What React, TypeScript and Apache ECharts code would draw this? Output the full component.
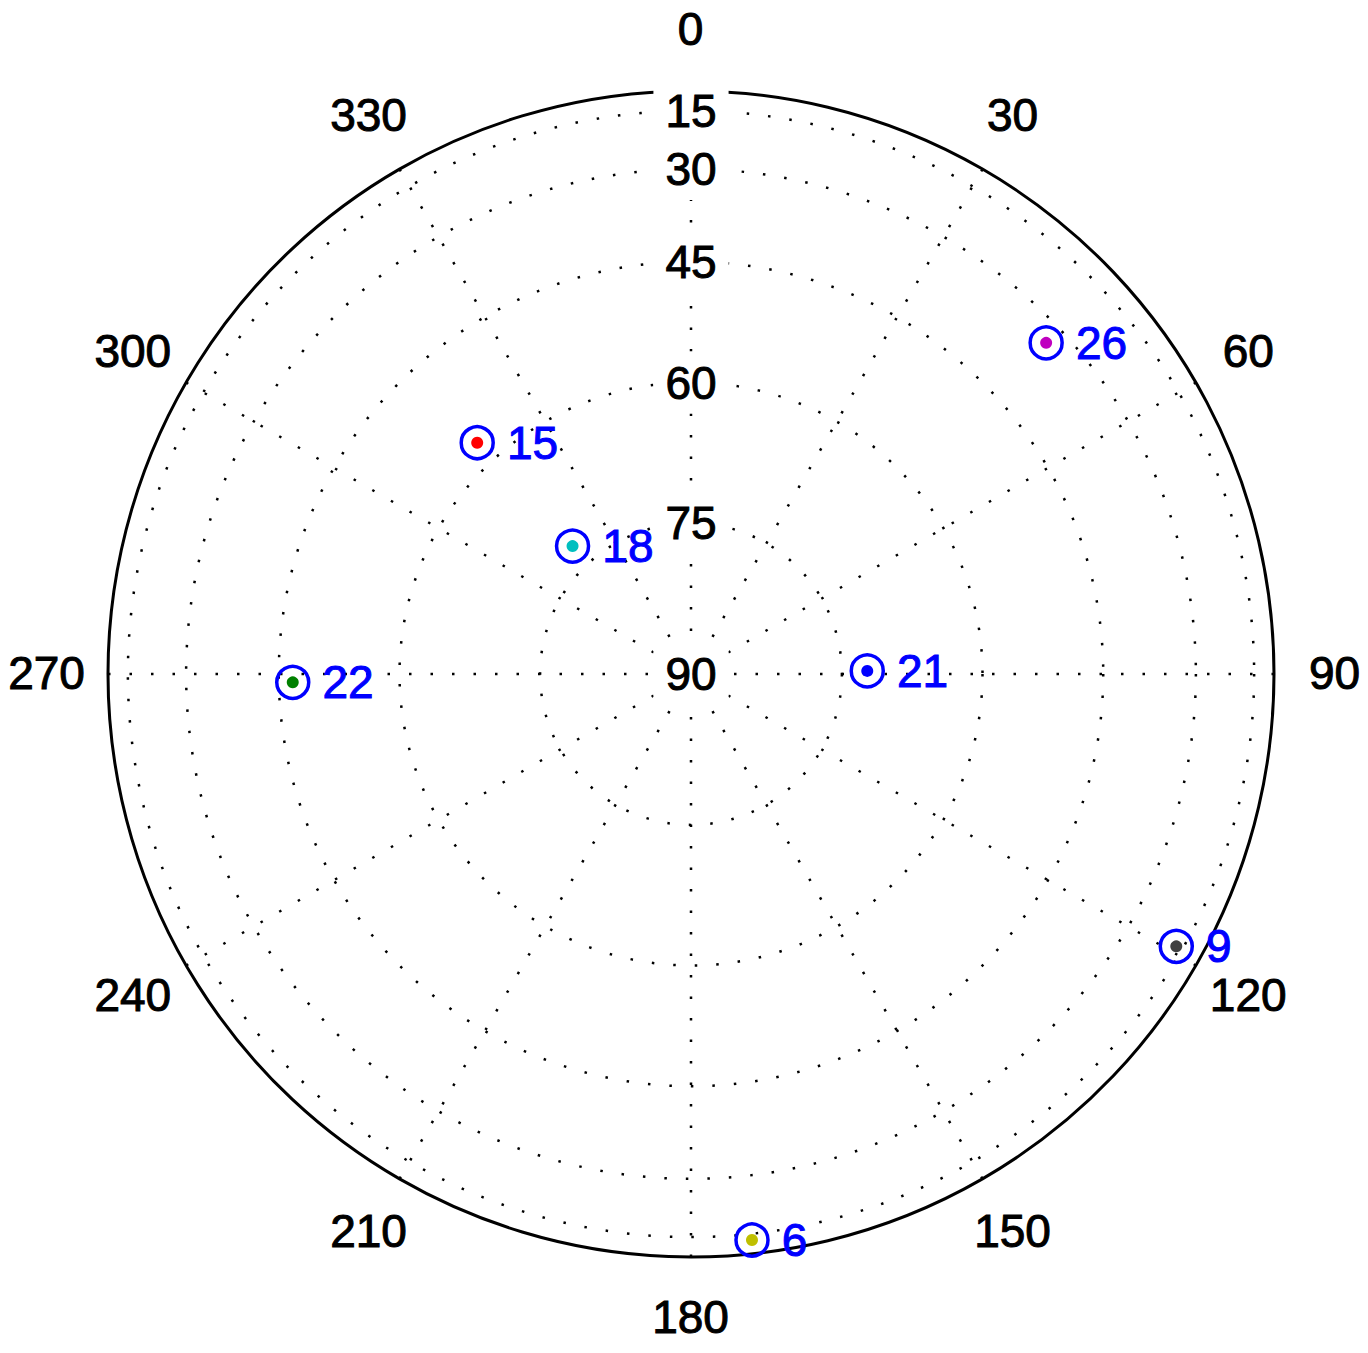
import React, { useEffect, useRef } from 'react';
import * as echarts from 'echarts';

// Azimuth tick labels (degrees, clockwise from north)
const angleTicks = [0, 30, 60, 90, 120, 150, 180, 210, 240, 270, 300, 330];
// Elevation tick labels along the north spoke
const elevationTicks = [15, 30, 45, 60, 75, 90];
// Elevation rings (dotted)
const ringElevations = [15, 30, 45, 60, 75];

// Satellites
const prns = ['26', '15', '18', '21', '22', '9', '6'];
const azimuths = [47.0, 317.25, 317.2, 89.0, 268.8, 119.3, 173.85];
const elevations = [33.6, 57.3, 72.6, 72.4, 46.9, 17.35, 12.45];
const dotColors = ['#bf00bf', '#ff0000', '#00bfbf', '#0000ff', '#008000', '#404040', '#bfbf00'];

const FONT = 'Liberation Sans, Arial, Helvetica, sans-serif';
const FS = 46;
const toR = (el: number) => Math.cos((el * Math.PI) / 180);

export default function App() {
  const ref = useRef<HTMLDivElement>(null);
  useEffect(() => {
    document.body.style.margin = '0';
    const chart = echarts.init(ref.current as HTMLDivElement, null, { renderer: 'svg' });
    chart.setOption({
      animation: false,
      backgroundColor: '#ffffff',
      polar: [
        { center: [691, 674], radius: 583 },
        { center: [690.5, 673], radius: 644 },
      ],
      angleAxis: [
        {
          polarIndex: 0,
          type: 'value',
          min: 0,
          max: 360,
          interval: 30,
          startAngle: 90,
          clockwise: true,
          axisLine: { show: true, lineStyle: { color: '#000', width: 3 } },
          axisTick: { show: false },
          axisLabel: { show: false },
          splitLine: { show: true, lineStyle: { color: '#000', width: 2.5, opacity: 1, type: [2.5, 19] } },
        },
        {
          polarIndex: 1,
          type: 'value',
          min: 0,
          max: 360,
          interval: 30,
          startAngle: 90,
          clockwise: true,
          show: false,
        },
      ],
      radiusAxis: [
        { polarIndex: 0, type: 'value', min: 0, max: 1, show: false },
        { polarIndex: 1, type: 'value', min: 0, max: 1, show: false },
      ],
      series: [
        {
          type: 'custom',
          coordinateSystem: 'polar',
          polarIndex: 0,
          silent: true,
          z: 1,
          data: ringElevations.map((e) => [toR(e), 0]),
          renderItem: (params: any, api: any) => {
            const r = api.value(0);
            const c = api.coord([0, 0]);
            const p = api.coord([r, 0]);
            const rad = Math.hypot(p[0] - c[0], p[1] - c[1]);
            return {
              type: 'circle',
              shape: { cx: c[0], cy: c[1], r: rad },
              style: { fill: 'none', stroke: '#000', lineWidth: 2.5, lineDash: [2.5, 19] },
            };
          },
        },
        {
          type: 'scatter',
          coordinateSystem: 'polar',
          polarIndex: 0,
          silent: true,
          z: 5,
          symbolSize: 0,
          itemStyle: { color: 'rgba(0,0,0,0)', opacity: 1 },
          data: elevationTicks.map((e) => [toR(e), 0, e]),
          label: {
            show: true,
            position: 'inside',
            formatter: (p: any) => String(p.value[2]),
            color: '#000000',
            opacity: 1,
            fontSize: FS,
            fontFamily: FONT,
            textBorderColor: '#000000',
            textBorderWidth: 1,
            backgroundColor: '#ffffff',
            padding: [8, 12],
          },
        },
        {
          type: 'scatter',
          coordinateSystem: 'polar',
          polarIndex: 1,
          silent: true,
          z: 5,
          symbolSize: 0,
          itemStyle: { color: 'rgba(0,0,0,0)', opacity: 1 },
          data: angleTicks.map((a) => [1, a]),
          label: {
            show: true,
            position: 'inside',
            formatter: (p: any) => String(p.value[1]),
            color: '#000000',
            opacity: 1,
            fontSize: FS,
            fontFamily: FONT,
            textBorderColor: '#000000',
            textBorderWidth: 1,
          },
        },
        {
          type: 'scatter',
          coordinateSystem: 'polar',
          polarIndex: 0,
          z: 3,
          symbol: 'circle',
          symbolSize: 12,
          itemStyle: { opacity: 1 },
          data: prns.map((p, i) => ({
            value: [toR(elevations[i]), azimuths[i]],
            itemStyle: { color: dotColors[i], opacity: 1 },
          })),
        },
        {
          type: 'scatter',
          coordinateSystem: 'polar',
          polarIndex: 0,
          z: 4,
          symbol: 'circle',
          symbolSize: 32,
          itemStyle: { color: 'rgba(0,0,0,0)', borderColor: '#0000ff', borderWidth: 3.5, opacity: 1 },
          data: prns.map((p, i) => ({ name: p, value: [toR(elevations[i]), azimuths[i]] })),
          label: {
            show: true,
            position: 'right',
            distance: 12,
            formatter: '{b}',
            color: '#0000ff',
            opacity: 1,
            fontSize: FS,
            fontFamily: FONT,
            textBorderColor: '#0000ff',
            textBorderWidth: 1,
          },
        },
      ],
    });
    return () => chart.dispose();
  }, []);
  return <div ref={ref} style={{ width: 1368, height: 1353 }} />;
}
